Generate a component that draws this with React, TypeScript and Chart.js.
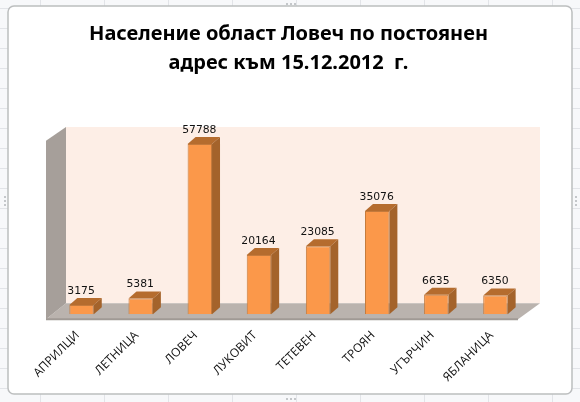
import React, { useEffect, useRef } from "react";
import { Chart, registerables } from "chart.js";

Chart.register(...registerables);

const titleLines = ["Население област Ловеч по постоянен", "адрес към 15.12.2012  г."];
const categories = ["АПРИЛЦИ", "ЛЕТНИЦА", "ЛОВЕЧ", "ЛУКОВИТ", "ТЕТЕВЕН", "ТРОЯН", "УГЪРЧИН", "ЯБЛАНИЦА"];
const population = [3175, 5381, 57788, 20164, 23085, 35076, 6635, 6350];

const frame3d = {
  id: "frame3d",
  beforeDraw(chart: any) {
    const { ctx, width, height } = chart;
    ctx.save();
    ctx.fillStyle = "#f7f8fa";
    ctx.fillRect(0, 0, width, height);
    ctx.strokeStyle = "#e2e4e8";
    ctx.lineWidth = 1;
    ctx.beginPath();
    for (let y = 8; y < height; y += 20) {
      ctx.moveTo(0, y + 0.5);
      ctx.lineTo(width, y + 0.5);
    }
    for (let x = 40; x < width; x += 64) {
      ctx.moveTo(x + 0.5, 0);
      ctx.lineTo(x + 0.5, height);
    }
    ctx.stroke();
    ctx.fillStyle = "#ffffff";
    ctx.strokeStyle = "#bcbebf";
    ctx.lineWidth = 1.5;
    ctx.beginPath();
    ctx.roundRect(8, 6, 564, 388, 6);
    ctx.fill();
    ctx.stroke();
    ctx.fillStyle = "#c4c7ca";
    for (const [x, y] of [[4, 200], [575, 200], [290, 3], [290, 398]]) {
      for (let i = -1; i <= 1; i++) {
        const vertical = x < 10 || x > 570;
        ctx.fillRect(vertical ? x : x + i * 4, vertical ? y + i * 4 : y, 2, 2);
      }
    }
    ctx.restore();
  },
  beforeDatasetsDraw(chart: any) {
    const { ctx } = chart;
    const { left, right, top, bottom } = chart.chartArea;
    const fx0 = left - 6, fx1 = right - 7, bx0 = left + 14, bx1 = right + 15;
    const fy = bottom + 5, by = bottom - 11, bTop = top - 10.5, fTop = top + 3.2;
    const poly = (pts: number[][], color: string) => {
      ctx.fillStyle = color;
      ctx.beginPath();
      pts.forEach(([x, y], i) => (i ? ctx.lineTo(x, y) : ctx.moveTo(x, y)));
      ctx.closePath();
      ctx.fill();
    };
    ctx.save();
    poly([[bx0, bTop], [bx1, bTop], [bx1, by], [bx0, by]], "#fdeee6");
    poly([[fx0, fy], [bx0, by], [bx1, by], [fx1, fy]], "#bab3ae");
    poly([[fx0, fTop], [bx0, bTop], [bx0, by], [fx0, fy]], "#a69f9a");
    poly([[fx0, fy - 1], [fx1, fy - 1], [fx1, fy + 1], [fx0, fy + 1]], "#a09a95");
    ctx.restore();
  },
  afterDatasetsDraw(chart: any) {
    const { ctx } = chart;
    const meta = chart.getDatasetMeta(0);
    const dx = 8, dy = 7;
    ctx.save();
    meta.data.forEach((bar: any, i: number) => {
      const l = bar.x - bar.width / 2, r = bar.x + bar.width / 2, t = bar.y, b = bar.base;
      ctx.fillStyle = "#b56c2e";
      ctx.beginPath();
      ctx.moveTo(l, t);
      ctx.lineTo(l + dx, t - dy);
      ctx.lineTo(r + dx, t - dy);
      ctx.lineTo(r, t);
      ctx.closePath();
      ctx.fill();
      ctx.fillStyle = "#a4632b";
      ctx.beginPath();
      ctx.moveTo(r, t);
      ctx.lineTo(r + dx, t - dy);
      ctx.lineTo(r + dx, b - dy);
      ctx.lineTo(r, b);
      ctx.closePath();
      ctx.fill();
      ctx.fillStyle = "#111111";
      ctx.font = "10.8px 'DejaVu Sans'";
      ctx.textAlign = "center";
      ctx.textBaseline = "middle";
      ctx.fillText(String(population[i]), bar.x - 0.5, t - 14);
    });
    ctx.restore();
  },
};

export default function App() {
  const ref = useRef<HTMLCanvasElement>(null);
  useEffect(() => {
    document.body.style.margin = "0";
    const chart = new Chart(ref.current!, {
      type: "bar",
      data: {
        labels: categories,
        datasets: [
          {
            data: population,
            backgroundColor: "#fb984a",
            borderColor: "#c47a3c",
            borderWidth: 1,
            barPercentage: 0.413,
            categoryPercentage: 1,
          },
        ],
      },
      options: {
        responsive: false,
        animation: false,
        devicePixelRatio: 1,
        layout: { padding: { left: 52, right: 55, top: 20, bottom: 0 } },
        plugins: {
          legend: { display: false },
          tooltip: { enabled: false },
          title: {
            display: true,
            text: titleLines,
            color: "#000000",
            font: { family: "'Noto Sans'", size: 20, weight: "bold", lineHeight: 1.45 },
            padding: { top: 0, bottom: 59.5 },
          },
        },
        scales: {
          x: {
            grid: { display: false },
            border: { display: false },
            afterFit: (s: any) => {
              s.height = 87.7;
            },
            ticks: {
              minRotation: 45,
              maxRotation: 45,
              autoSkip: false,
              color: "#111111",
              padding: 6,
              labelOffset: -4,
              font: { family: "'Open Sans'", size: 12 },
            },
          },
          y: { display: false, min: 0, max: 60000 },
        },
      },
      plugins: [frame3d],
    } as any);
    return () => chart.destroy();
  }, []);
  return <canvas ref={ref} width={580} height={402} style={{ display: "block" }} />;
}
